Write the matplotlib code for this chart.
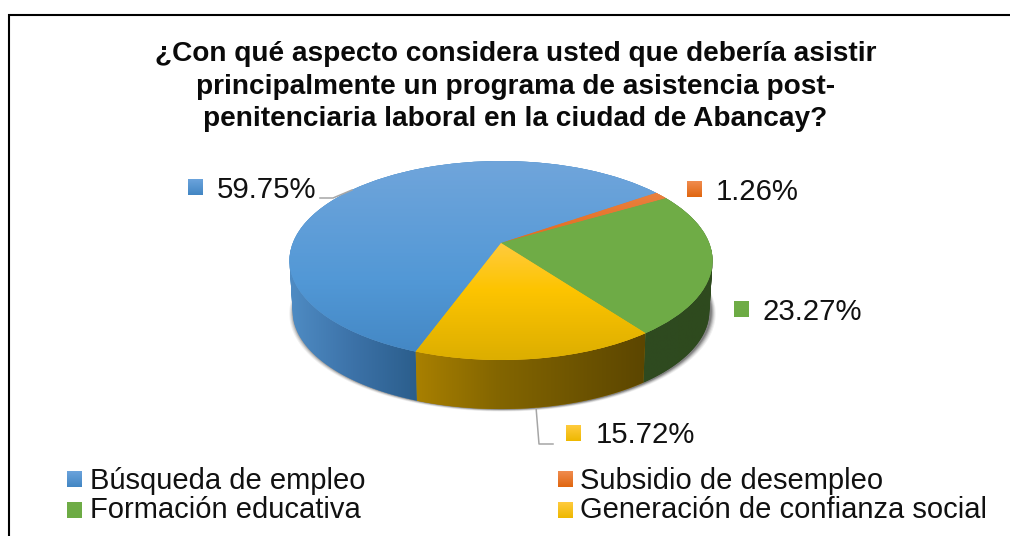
import numpy as np
import matplotlib
matplotlib.use('Agg')
import matplotlib.pyplot as plt
from matplotlib.colors import LinearSegmentedColormap
from matplotlib.patches import PathPatch, Polygon
from matplotlib.path import Path
from matplotlib.transforms import Transform

plt.rcParams['font.family'] = ['Liberation Sans', 'DejaVu Sans']

title_lines = [
    '¿Con qué aspecto considera usted que debería asistir',
    'principalmente un programa de asistencia post-',
    'penitenciaria laboral en la ciudad de Abancay?',
]
categories = ['Búsqueda de empleo', 'Subsidio de desempleo',
              'Formación educativa', 'Generación de confianza social']
values = [59.75, 1.26, 23.27, 15.72]
value_labels = ['59.75%', '1.26%', '23.27%', '15.72%']

top_colors = [
    [(0, '#70a5db'), (0.6, '#5298d6'), (1, '#4286c3')],
    [(0, '#ee8d55'), (1, '#e26c1d')],
    [(0, '#70ad47'), (1, '#6eab46')],
    [(0, '#ffcb3e'), (0.4, '#fdc400'), (1, '#dcae00')],
]
# y range of the top face gradient of each slice
top_spans = [(161, 360), (161, 243), (161, 360), (243, 360)]
wall_colors = [
    [(0, '#4f8cc4'), (0.5, '#3c72a8'), (1, '#2b5e8c')],
    [(0, '#a04f15'), (1, '#a04f15')],
    [(0, '#2f4a20'), (1, '#2e4a1e')],
    [(0, '#a98000'), (0.35, '#846600'), (0.75, '#6b5200'), (1, '#5c4600')],
]
# x range of the visible side wall of each slice
wall_spans = [(289, 417), (655, 668), (643, 713), (415, 645)]
swatch_colors = [
    [(0, '#6ba3dc'), (1, '#4286c3')],
    [(0, '#f08c50'), (1, '#e0660f')],
    [(0, '#70ad47'), (1, '#6cab44')],
    [(0, '#ffcb3e'), (1, '#eeb800')],
]

# pie geometry, in pixels
cx, cy = 501, 243
a, b, k = 208.2, 96.4, 0.176
wall_scale, wall_drop = 0.985, 50.8


def project(u, v, scale=1.0, drop=0.0):
    w = 1 + k * v
    return cx + scale * a * u / w, cy - scale * b * v / w + drop


class TiltTransform(Transform):
    input_dims = 2
    output_dims = 2

    def transform_non_affine(self, xy):
        xy = np.asarray(xy, dtype=float)
        return np.column_stack(project(xy[:, 0], xy[:, 1]))


def gradient(ax, stops, extent, clip=None, vertical=True, zorder=3):
    cmap = LinearSegmentedColormap.from_list('g', stops)
    ramp = np.linspace(0, 1, 256)
    ramp = ramp[:, None] if vertical else ramp[None, :]
    im = ax.imshow(ramp, cmap=cmap, vmin=0, vmax=1, aspect='auto',
                   extent=extent, zorder=zorder, interpolation='bilinear')
    if clip is not None:
        im.set_clip_path(clip)
    return im


def wall_path(theta1, theta2):
    # one small quad per step, all wound the same way so none cancel out
    t = np.radians(np.linspace(theta1, theta2, 200))
    x1, y1 = project(np.cos(t), np.sin(t))
    x2, y2 = project(np.cos(t), np.sin(t), wall_scale, wall_drop)
    verts, codes = [], []
    for j in range(len(t) - 1):
        quad = [(x1[j], y1[j]), (x1[j + 1], y1[j + 1]), (x2[j + 1], y2[j + 1]), (x2[j], y2[j])]
        qx, qy = np.array(quad).T
        if np.dot(qx, np.roll(qy, -1)) - np.dot(qy, np.roll(qx, -1)) < 0:
            quad = quad[::-1]
        verts += quad + [quad[0]]
        codes += [Path.MOVETO, Path.LINETO, Path.LINETO, Path.LINETO, Path.CLOSEPOLY]
    return Path(verts, codes)


fig = plt.figure(figsize=(10.1, 5.36), dpi=100)
ax = fig.add_axes([0, 0, 1, 1])

wedges, _ = ax.pie(values, startangle=250, counterclock=False,
                   colors=['#5b9bd5', '#ed7d31', '#70ad47', '#ffc000'],
                   wedgeprops={'linewidth': 0})

# soft shadow under the wall
t = np.radians(np.linspace(0, 360, 240))
for grow, alpha in zip([5, 4, 3, 2, 1], [0.06, 0.08, 0.12, 0.16, 0.2]):
    sx, sy = project(np.cos(t), np.sin(t), wall_scale, wall_drop)
    pts = np.column_stack([cx + 1.5 + (sx - cx) * (1 + grow / 212), sy + grow * 0.5])
    ax.add_patch(Polygon(pts, closed=True, facecolor='black', edgecolor='none',
                         alpha=alpha, zorder=1))

tilt = TiltTransform() + ax.transData
for i, w in enumerate(wedges):
    # side wall of the slice
    wall = PathPatch(wall_path(w.theta1, w.theta2), facecolor=wall_colors[i][0][1],
                     edgecolor='none', zorder=2)
    ax.add_patch(wall)
    x0, x9 = wall_spans[i]
    gradient(ax, wall_colors[i], (x0, x9, 420, 250), clip=wall, vertical=False, zorder=3)

    # top face
    w.set_transform(tilt)
    w.set_zorder(4)
    y0, y9 = top_spans[i]
    gradient(ax, top_colors[i], (280, 720, y9, y0), clip=w, zorder=5)

# leader lines
ax.plot([320, 333, 352], [198, 198, 190], color='#a6a6a6', lw=1.1, zorder=6)
ax.plot([536, 539, 553], [407, 444, 444], color='#a6a6a6', lw=1.1, zorder=1)

# data labels
label_swatches = [(188, 179), (687, 181), (734, 301), (566, 425)]
label_text = [(217, 198), (716, 200), (763, 320), (596, 443)]
for i in range(4):
    x, y = label_swatches[i]
    gradient(ax, swatch_colors[i], (x, x + 15, y + 16, y), zorder=6)
    ax.text(label_text[i][0], label_text[i][1], value_labels[i], fontsize=21.2,
            color='#111111', va='baseline', ha='left', zorder=7)

# legend
legend_swatches = [(67, 471), (558, 471), (67, 502), (558, 502)]
legend_text = [(90, 489), (580, 489), (90, 518), (580, 518)]
for i in range(4):
    x, y = legend_swatches[i]
    gradient(ax, swatch_colors[i], (x, x + 15, y + 16, y), zorder=6)
    ax.text(legend_text[i][0], legend_text[i][1], categories[i], fontsize=21,
            color='#111111', va='baseline', ha='left', zorder=7)

# title
for line, base in zip(title_lines, [61, 94, 126]):
    ax.text(515.5, base, line, fontsize=20.2, fontweight='bold', color='#0a0a0a',
            ha='center', va='baseline', zorder=7)

# frame of the pasted chart: only left and top edges are in the picture
ax.plot([9, 9, 1010], [536, 15, 15], color='black', lw=1.5, zorder=8,
        solid_joinstyle='miter')

ax.set_aspect('auto')
ax.set_xlim(0, 1010)
ax.set_ylim(536, 0)
ax.axis('off')

fig.savefig('out.png', dpi=100, facecolor='white')
